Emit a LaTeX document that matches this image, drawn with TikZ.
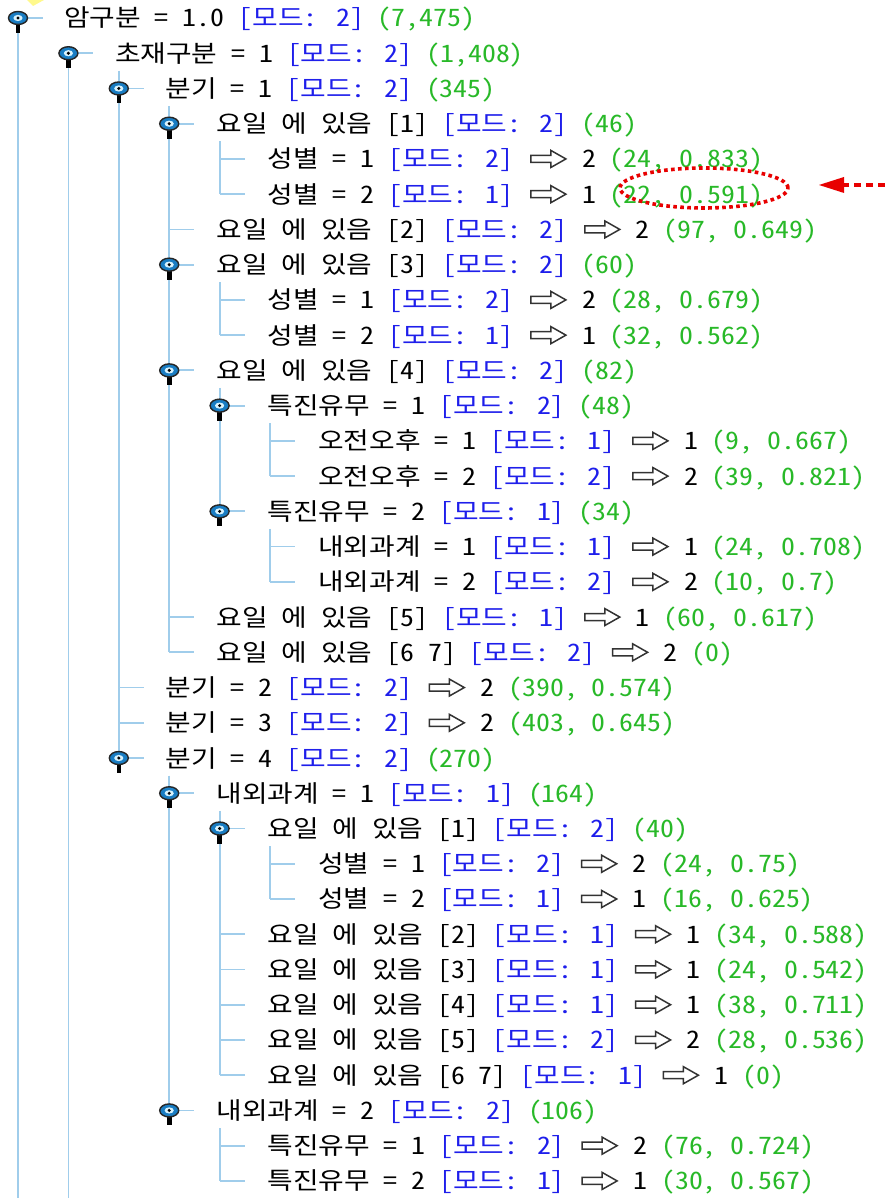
\documentclass[tikz,border=0pt]{standalone}
\usepackage{fontspec}
\setmainfont{Noto Sans CJK KR}[FakeStretch=1.16, RawFeature=+hwid]
\usetikzlibrary{shapes.geometric}
\definecolor{treeline}{RGB}{160,205,235}
\definecolor{modeblue}{RGB}{30,30,235}
\definecolor{cntgreen}{RGB}{40,185,40}
\definecolor{handleblue}{RGB}{25,125,195}
\definecolor{annored}{RGB}{232,0,0}
\newcommand\md[1]{\textcolor{modeblue}{[모드: #1]}}
\newcommand\ct[1]{\textcolor{cntgreen}{(#1)}}
\def\HX#1{18+50.4*#1}
\def\TX#1{64+50.8*#1}
\def\RC#1{1180-35.24*#1}
\def\RB#1{1180-35.24*#1-9}
\tikzset{
  leg/.style={draw=treeline, line width=1.8pt},
  lbl/.style={anchor=base west, inner sep=0pt, font=\fontsize{24}{28}\selectfont},
  hdl/.style={ellipse, draw=black!85, line width=1.4pt, fill=handleblue,
    minimum width=19pt, minimum height=13pt, inner sep=0pt},
  warrow/.style={draw=black!80, fill=white, line width=1.5pt, line join=miter},
}
\newcommand\Row[4]{\node[lbl] (#1) at ({\TX{#2}},{\RB{#3}}) {#4};}
\newcommand\LRow[6]{% name, depth, row, left text, result, counts
  \node[lbl] (#1) at ({\TX{#2}},{\RB{#3}}) {#4};
  \draw[warrow] ([xshift=17pt,yshift=12.5pt]#1.base east) -- ++(20,0) -- ++(0,5)
    -- ++(15,-8.5) -- ++(-15,-8.5) -- ++(0,5) -- ++(-20,0) -- cycle;
  \node[lbl] (#1r) at ([xshift=68pt]#1.base east) {#5 \ct{#6}};}
\newcommand\Leaf[2]{% row, depth
  \coordinate (l#1) at ({\HX{#2}},{\RC{#1}});
  \coordinate (le#1) at ({\HX{#2}+25},{\RC{#1}});
  \draw[leg] (l#1) -- (le#1);}
\newcommand\HandleCo[2]{% row, depth
  \coordinate (k#1) at ({\HX{#2}},{\RC{#1}});
  \coordinate (ke#1) at ({\HX{#2}+25},{\RC{#1}});
  \draw[leg] (k#1) -- (ke#1);}
\newcommand\Handle[1]{%
  \fill[black] ([xshift=-2.3pt]k#1) rectangle ([xshift=2.3pt,yshift=-15pt]k#1);
  \node[hdl] (h#1) at (k#1) {};
  \fill[white!85!cyan] (h#1.center) ellipse (4.6pt and 3.1pt);
  \fill[black] (h#1.center) circle (1.7pt);}
\newcommand\VLine[4]{% name, parent row, child depth, end coordinate
  \coordinate (#1) at ({\HX{#3}},{\RC{#2}-17.6});
  \draw[leg] (#1) -- (#4);}
\begin{document}
\begin{tikzpicture}[x=1pt,y=1pt]
\fill[white] (0,0) rectangle (885,1198);
\useasboundingbox (0,0) rectangle (885,1198);
% faint yellow mark at the top
\fill[yellow!45] (27,1198) -- (44,1198) -- (33,1192) -- cycle;
% handle coordinates and stubs
\HandleCo{0}{0}\HandleCo{1}{1}\HandleCo{2}{2}\HandleCo{3}{3}\HandleCo{7}{3}
\HandleCo{10}{3}\HandleCo{11}{4}\HandleCo{14}{4}\HandleCo{21}{2}\HandleCo{22}{3}
\HandleCo{23}{4}\HandleCo{31}{3}
% leaf legs
\Leaf{4}{4}\Leaf{5}{4}\Leaf{6}{3}\Leaf{8}{4}\Leaf{9}{4}\Leaf{12}{5}\Leaf{13}{5}
\Leaf{15}{5}\Leaf{16}{5}\Leaf{17}{3}\Leaf{18}{3}\Leaf{19}{2}\Leaf{20}{2}
\Leaf{24}{5}\Leaf{25}{5}\Leaf{26}{4}\Leaf{27}{4}\Leaf{28}{4}\Leaf{29}{4}
\Leaf{30}{4}\Leaf{32}{4}\Leaf{33}{4}
% vertical lines
\coordinate (b0) at ({\HX{0}},0);
\coordinate (b1) at ({\HX{1}},0);
\draw[leg] (k0) -- (b0);
\draw[leg] (k1) -- (b1);
\VLine{v1}{1}{2}{k21}
\VLine{v2}{2}{3}{l18}
\VLine{v3}{3}{4}{l5}
\VLine{v7}{7}{4}{l9}
\VLine{v10}{10}{4}{k14}
\VLine{v11}{11}{5}{l13}
\VLine{v14}{14}{5}{l16}
\VLine{v21}{21}{3}{k31}
\VLine{v22}{22}{4}{l30}
\VLine{v23}{23}{5}{l25}
\VLine{v31}{31}{4}{l33}
% handles
\Handle{0}\Handle{1}\Handle{2}\Handle{3}\Handle{7}\Handle{10}\Handle{11}
\Handle{14}\Handle{21}\Handle{22}\Handle{23}\Handle{31}
% texts
\Row{t0}{0}{0}{암구분 = 1.0 \md{2} \ct{7,475}}
\Row{t1}{1}{1}{초재구분 = 1 \md{2} \ct{1,408}}
\Row{t2}{2}{2}{분기 = 1 \md{2} \ct{345}}
\Row{t3}{3}{3}{요일 에 있음 [1] \md{2} \ct{46}}
\LRow{t4}{4}{4}{성별 = 1 \md{2}}{2}{24, 0.833}
\LRow{t5}{4}{5}{성별 = 2 \md{1}}{1}{22, 0.591}
\LRow{t6}{3}{6}{요일 에 있음 [2] \md{2}}{2}{97, 0.649}
\Row{t7}{3}{7}{요일 에 있음 [3] \md{2} \ct{60}}
\LRow{t8}{4}{8}{성별 = 1 \md{2}}{2}{28, 0.679}
\LRow{t9}{4}{9}{성별 = 2 \md{1}}{1}{32, 0.562}
\Row{t10}{3}{10}{요일 에 있음 [4] \md{2} \ct{82}}
\Row{t11}{4}{11}{특진유무 = 1 \md{2} \ct{48}}
\LRow{t12}{5}{12}{오전오후 = 1 \md{1}}{1}{9, 0.667}
\LRow{t13}{5}{13}{오전오후 = 2 \md{2}}{2}{39, 0.821}
\Row{t14}{4}{14}{특진유무 = 2 \md{1} \ct{34}}
\LRow{t15}{5}{15}{내외과계 = 1 \md{1}}{1}{24, 0.708}
\LRow{t16}{5}{16}{내외과계 = 2 \md{2}}{2}{10, 0.7}
\LRow{t17}{3}{17}{요일 에 있음 [5] \md{1}}{1}{60, 0.617}
\LRow{t18}{3}{18}{요일 에 있음 [6 7] \md{2}}{2}{0}
\LRow{t19}{2}{19}{분기 = 2 \md{2}}{2}{390, 0.574}
\LRow{t20}{2}{20}{분기 = 3 \md{2}}{2}{403, 0.645}
\Row{t21}{2}{21}{분기 = 4 \md{2} \ct{270}}
\Row{t22}{3}{22}{내외과계 = 1 \md{1} \ct{164}}
\Row{t23}{4}{23}{요일 에 있음 [1] \md{2} \ct{40}}
\LRow{t24}{5}{24}{성별 = 1 \md{2}}{2}{24, 0.75}
\LRow{t25}{5}{25}{성별 = 2 \md{1}}{1}{16, 0.625}
\LRow{t26}{4}{26}{요일 에 있음 [2] \md{1}}{1}{34, 0.588}
\LRow{t27}{4}{27}{요일 에 있음 [3] \md{1}}{1}{24, 0.542}
\LRow{t28}{4}{28}{요일 에 있음 [4] \md{1}}{1}{38, 0.711}
\LRow{t29}{4}{29}{요일 에 있음 [5] \md{2}}{2}{28, 0.536}
\LRow{t30}{4}{30}{요일 에 있음 [6 7] \md{1}}{1}{0}
\Row{t31}{3}{31}{내외과계 = 2 \md{2} \ct{106}}
\LRow{t32}{4}{32}{특진유무 = 1 \md{2}}{2}{76, 0.724}
\LRow{t33}{4}{33}{특진유무 = 2 \md{1}}{1}{30, 0.567}
% red annotation
\node[ellipse, draw=annored, line width=3.6pt, dash pattern=on 3.6pt off 3.4pt,
  minimum width=168pt, minimum height=40pt, inner sep=0pt] (hl) at (704,1010) {};
\coordinate (atail) at (885,1013);
\coordinate (abase) at (844,1013);
\coordinate (atip) at (819,1013);
\draw[annored, line width=4pt, dash pattern=on 7pt off 5pt] (atail) -- (abase);
\fill[annored] (atip) -- ([yshift=8pt]abase) -- ([yshift=-8pt]abase) -- cycle;
\end{tikzpicture}
\end{document}
